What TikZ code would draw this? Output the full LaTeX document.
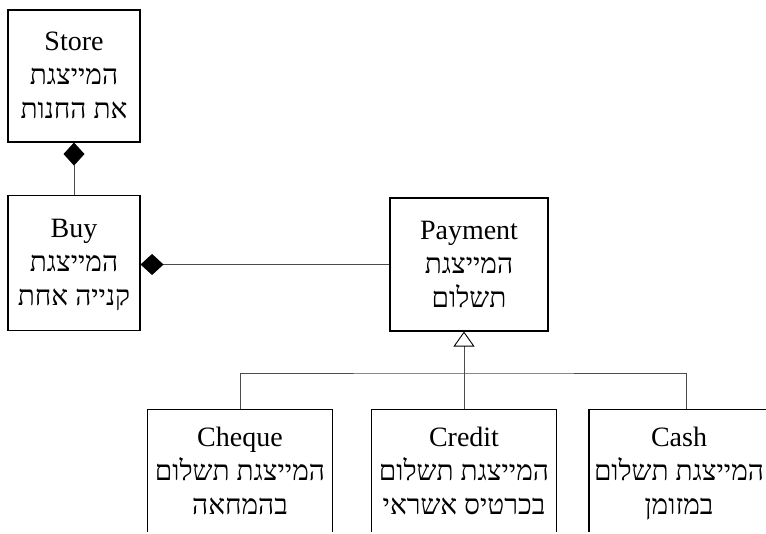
\documentclass[tikz,border=0pt]{standalone}
\usepackage{fontspec}
\setmainfont{Liberation Serif}
\newfontfamily\hebfont[Script=Hebrew,Scale=1.0]{Liberation Serif}
\TeXXeTstate=1
\newcommand\heb[1]{{\hebfont\beginR #1\endR}}
\usetikzlibrary{arrows.meta}
\tikzset{
  classbox/.style={draw, line width=1.1pt, align=center, inner sep=0pt,
    text depth=1pt, font=\fontsize{28}{34}\selectfont},
  link/.style={draw=black!70, line width=0.9pt},
  comp/.style={link, -{Diamond[length=23pt,width=21pt,color=black]}},
  gen/.style={link, -{Triangle[open,length=15pt,width=21pt,color=black]}},
}
\begin{document}
\begin{tikzpicture}[x=1pt,y=-1pt]
	\useasboundingbox (0,0) rectangle (766,534);
	\clip (0,0) rectangle (766,531); % lower edge of the picture cuts the boxes
	\node[classbox, minimum width=132pt, minimum height=132pt] (Store) at (74,76)
		{Store\\\heb{המייצגת}\\\heb{החנות} \heb{את}};
	\node[classbox, minimum width=132pt, minimum height=135pt] (Buy) at (74,263)
		{Buy\\\heb{המייצגת}\\\heb{אחת} \heb{קנייה}};
	\node[classbox, minimum width=158pt, minimum height=133pt] (Payment) at (469,264.5)
		{Payment\\\heb{המייצגת}\\\heb{תשלום}};
	% subclasses
	\node[classbox, anchor=north, minimum width=185pt, minimum height=123pt] (Cheque) at (240,409)
		{Cheque\\\heb{תשלום} \heb{המייצגת}\\\heb{בהמחאה}};
	\node[classbox, anchor=north, minimum width=185pt, minimum height=123pt] (Credit) at (464,409)
		{Credit\\\heb{תשלום} \heb{המייצגת}\\\heb{אשראי} \heb{בכרטיס}};
	\node[classbox, anchor=north, minimum width=180pt, minimum height=123pt] (Cash) at (679,409)
		{Cash\\\heb{תשלום} \heb{המייצגת}\\\heb{במזומן}};
	\coordinate (bus) at (464,373);
	% composition
	\draw[comp] (Buy.north) -- (Store.south);
	\draw[comp] (Payment.west) -- (Payment.west -| Buy.east);
	% generalization
	\draw[link] (Cheque.north) |- (bus) -| ([xshift=7pt]Cash.north);
	\draw[gen] (Credit.north) -- (Credit.north |- Payment.south);
\end{tikzpicture}
\end{document}
